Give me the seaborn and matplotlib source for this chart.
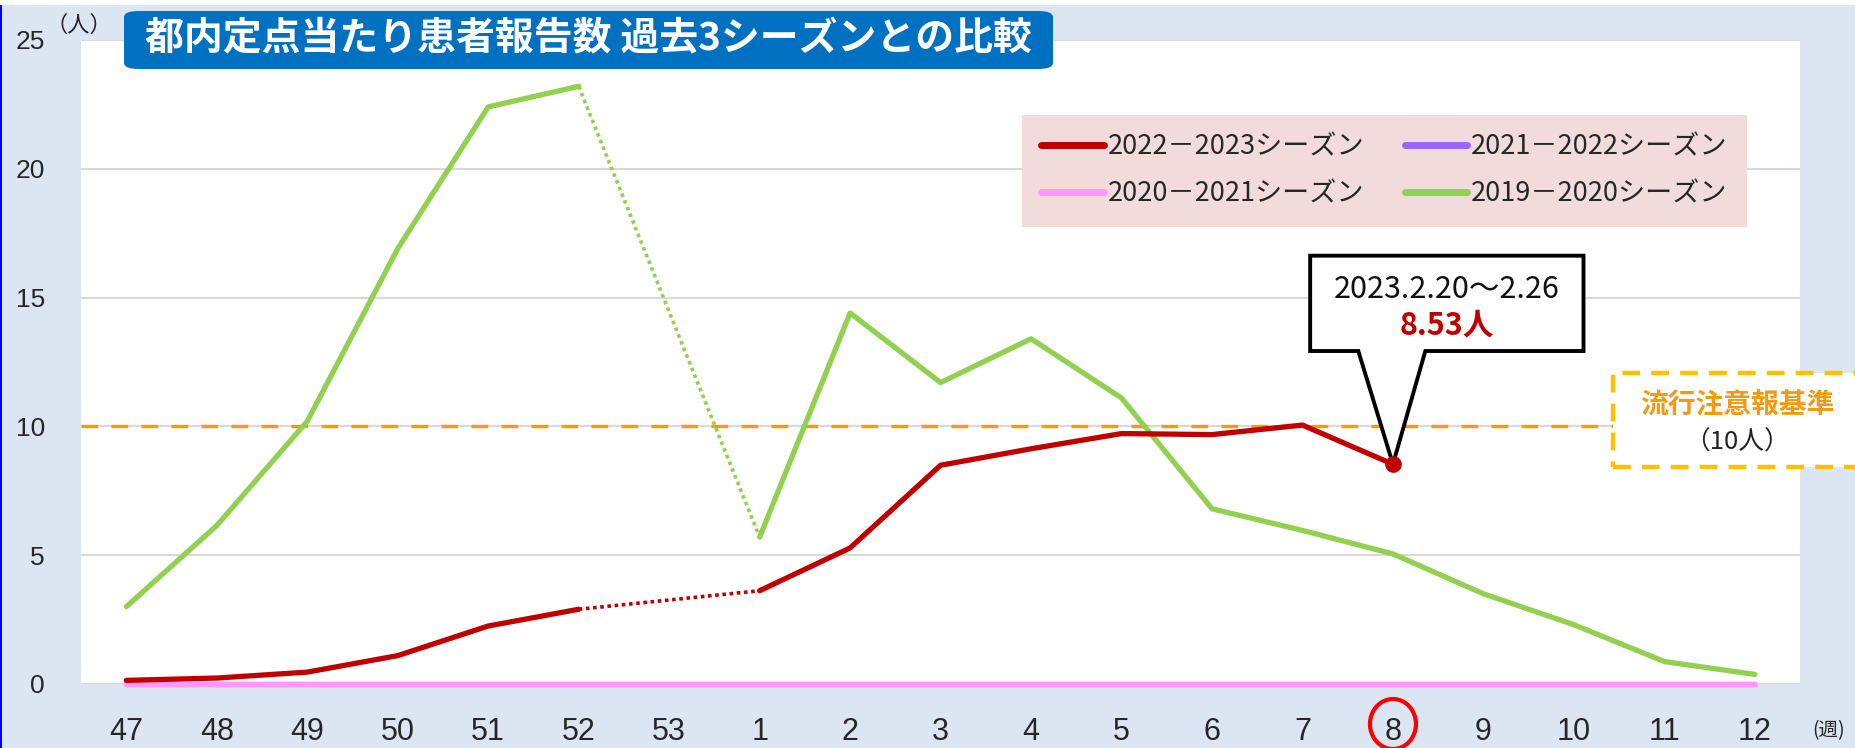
import matplotlib.pyplot as plt
import numpy as np
import pandas as pd
import seaborn as sns
from matplotlib.lines import Line2D
from matplotlib.patches import Ellipse, FancyBboxPatch, Polygon, Rectangle

sns.set_theme(style="white")
plt.rcParams["font.family"] = ["Noto Sans CJK JP", "DejaVu Sans"]

weeks = ["47", "48", "49", "50", "51", "52", "53", "1", "2", "3", "4",
         "5", "6", "7", "8", "9", "10", "11", "12"]
s2223 = [0.14, 0.23, 0.46, 1.10, 2.25, 2.90, None, 3.62, 5.28, 8.49, 9.13,
         9.72, 9.68, 10.05, 8.53, None, None, None, None]
s2122 = [0, 0, 0, 0, 0, 0, 0, 0, 0, 0, 0, 0, 0, 0, 0, 0, 0, 0, 0]
s2021 = [0, 0, 0, 0, 0, 0, 0, 0, 0, 0, 0, 0, 0, 0, 0, 0, 0, 0, 0]
s1920 = [3.0, 6.15, 10.2, 16.9, 22.4, 23.2, None, 5.7, 14.4, 11.7, 13.4,
         11.1, 6.8, 5.96, 5.05, 3.5, 2.3, 0.87, 0.37]
names = ["2022－2023シーズン", "2021－2022シーズン", "2020－2021シーズン", "2019－2020シーズン"]
colors = ["#c00000", "#9966ff", "#ff99ff", "#92d050"]
threshold = 10
latest_week = "8"
latest_value = 8.53

palette = dict(zip(names, colors))
rows, bridge = [], []
for name, vals in zip(names, [s2223, s2122, s2021, s1920]):
    v = pd.Series(vals, dtype=float)
    part = v.isna().cumsum()
    for i in range(len(weeks)):
        rows.append({"season": name, "pos": i, "value": v[i], "part": part[i]})
    # dotted bridge over the missing week
    for i in np.where(v.isna().to_numpy())[0]:
        if 0 < i < len(v) - 1 and not np.isnan(v[i - 1]) and not np.isnan(v[i + 1]):
            bridge.append({"season": name, "pos": i - 1, "value": v[i - 1], "part": i})
            bridge.append({"season": name, "pos": i + 1, "value": v[i + 1], "part": i})
df = pd.DataFrame(rows).dropna()
dfb = pd.DataFrame(bridge)

fig = plt.figure(figsize=(18.55, 7.48), dpi=100, facecolor="#dce6f2")
ax = fig.add_axes([0.0437, 0.0856, 0.9267, 0.861])
ax.set_facecolor("white")
ax.set_xlim(-0.5, len(weeks) - 0.5)
ax.set_ylim(0, 25)

draw_order = [names[1], names[2], names[3], names[0]]
sns.lineplot(data=dfb, x="pos", y="value", hue="season", units="part",
             estimator=None, palette=palette, hue_order=draw_order,
             linewidth=2.6, linestyle=(0, (1, 1)), legend=False, ax=ax)
sns.lineplot(data=df, x="pos", y="value", hue="season", units="part",
             estimator=None, palette=palette, hue_order=draw_order,
             linewidth=3.8, solid_capstyle="round", clip_on=False,
             legend=False, ax=ax)

ax.axhline(threshold, xmin=0, xmax=0.892, color="#ff9900", lw=2.4,
           linestyle=(0, (5, 4)), zorder=1.5)

ax.set_yticks([0, 5, 10, 15, 20, 25])
ax.set_xticks(range(len(weeks)))
ax.set_xticklabels(weeks)
ax.yaxis.grid(True, color="#d9d9d9", lw=1.5)
ax.set_axisbelow(True)
for s in ax.spines.values():
    s.set_visible(False)
ax.tick_params(axis="x", length=0, pad=24, labelsize=22)
ax.tick_params(axis="y", length=0, pad=26, labelsize=19)
for lab in ax.get_xticklabels() + ax.get_yticklabels():
    lab.set_family(["Liberation Sans Narrow", "Liberation Sans"])
ax.set_xlabel("")
ax.set_ylabel("")

# legend
order = [0, 2, 1, 3]
handles = [Line2D([0], [0], color=colors[i], lw=5, solid_capstyle="round") for i in order]
leg = ax.legend(handles, [names[i] for i in order], ncol=2, loc="upper right",
                bbox_to_anchor=(0.969, 0.884), fontsize=19.5, frameon=True,
                handlelength=2.3, handletextpad=0.15, columnspacing=1.5,
                labelspacing=0.75, borderpad=0.7, borderaxespad=0)
leg.get_frame().set_facecolor("#f2dcdb")
leg.get_frame().set_edgecolor("none")
leg.get_frame().set_alpha(1)
leg.get_frame().set_boxstyle("square", pad=0)

# callout to the latest value
xi = weeks.index(latest_week)
tip = ax.transAxes.inverted().transform(ax.transData.transform((xi, latest_value)))
bx0, bx1, by0, by1 = 0.715, 0.874, 0.517, 0.665
call = Polygon([(bx0, by0), (0.743, by0), tuple(tip), (0.782, by0), (bx1, by0),
                (bx1, by1), (bx0, by1)], closed=True, transform=ax.transAxes,
               facecolor="white", edgecolor="black", lw=2.8, joinstyle="miter",
               zorder=5)
ax.add_patch(call)
ax.text((bx0 + bx1) / 2, 0.612, "2023.2.20～2.26", transform=ax.transAxes,
        ha="center", va="center", fontsize=22, color="#111111", zorder=6)
ax.text((bx0 + bx1) / 2, 0.556, f"{latest_value:.2f}人", transform=ax.transAxes,
        ha="center", va="center", fontsize=22, fontweight="bold",
        color="#c00000", zorder=6)
ax.plot([xi], [latest_value], "o", color="#c00000", ms=11, zorder=7, clip_on=False)

# threshold label box
fig.add_artist(Rectangle((0.8695, 0.3757), 0.2, 0.1256, transform=fig.transFigure,
                         facecolor="white", edgecolor="#ffc000", lw=3.2,
                         linestyle=(0, (4, 2.5)), zorder=4))
fig.text(0.9365, 1 - 405 / 748, "流行注意報基準", ha="center", va="center",
         fontsize=20, fontweight="bold", color="#f59a0f", zorder=6)
fig.text(0.9365, 1 - 443 / 748, "（10人）", ha="center", va="center",
         fontsize=18.5, color="#222222", zorder=6)

# title
fig.add_artist(FancyBboxPatch((124 / 1855, 1 - 69 / 748), 929 / 1855, 58 / 748,
                              boxstyle="round,pad=0,rounding_size=0.008",
                              transform=fig.transFigure, facecolor="#0070c0",
                              edgecolor="none", zorder=8))
fig.text(588 / 1855, 1 - 39 / 748, "都内定点当たり患者報告数 過去3シーズンとの比較",
         ha="center", va="center", fontsize=28, fontweight="bold", color="white",
         zorder=9)

# units and week marker
fig.text(79 / 1855, 1 - 25 / 748, "（人）", ha="center", va="center", fontsize=16,
         color="#222222")
fig.text(1829 / 1855, 1 - 731 / 748, "(週)", ha="center", va="center", fontsize=14,
         color="#222222")
ex = fig.transFigure.inverted().transform(ax.transData.transform((xi, 0)))[0]
fig.add_artist(Ellipse((ex, 1 - 724 / 748), 46 / 1855, 50 / 748,
                       transform=fig.transFigure, fill=False, edgecolor="#ff0000",
                       lw=3))

# frame details
fig.add_artist(Rectangle((0, 0), 2 / 1855, 1, transform=fig.transFigure,
                         facecolor="#0000ff", edgecolor="none"))
fig.add_artist(Rectangle((0, 1 - 5 / 748), 1, 5 / 748, transform=fig.transFigure,
                         facecolor="white", edgecolor="none"))

fig.savefig("out.png", dpi=100, facecolor=fig.get_facecolor())
